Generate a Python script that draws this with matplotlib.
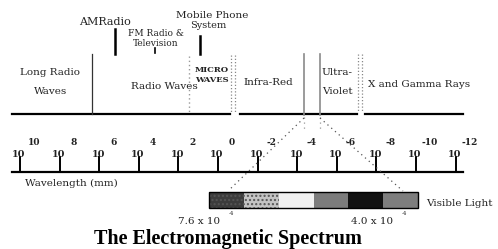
import matplotlib.pyplot as plt
from matplotlib.patches import Rectangle

plt.rcParams["font.family"] = ["DejaVu Serif"]

# wavelength scale: powers of ten in mm
exponents = [10, 8, 6, 4, 2, 0, -2, -4, -6, -8, -10, -12]

# band boundaries on the log10 scale
long_radio_edge = 6.36
micro_left = 1.46
micro_right = -0.76
ir_edges = [-4.34, -5.15]
xray_edge = -7.17

# visible light strip colours (red -> violet)
visible_colors = ["#3c3c3c", "#c4c4c4", "#f0f0f0", "#7c7c7c", "#121212", "#7e7e7e"]
visible_hatch = ["....", "....", None, None, None, None]
visible_left, visible_right = 0.45, -10.10

fig = plt.figure(figsize=(4.98, 2.49), dpi=100)
ax = fig.add_axes([0, 0, 1, 1])
ax.set_xlim(11.01, -14.14)
ax.set_ylim(249, 0)
ax.axis("off")

px = 19.8  # pixels per decade, used for small offsets
txt = dict(color="#222222", fontsize=7.5, ha="center", va="center")

# ---- top band diagram ----
ax.plot([10.40, -0.61], [114, 114], color="black", lw=1.6)
ax.plot([-1.11, -7.02], [114, 114], color="black", lw=1.6)
ax.plot([-7.42, -12.37], [114, 114], color="black", lw=1.6)

ax.plot([long_radio_edge] * 2, [54, 114], color="#333333", lw=0.9)
ax.plot([5.20, 5.20], [29, 54], color="black", lw=1.8)     # AM radio
ax.plot([3.18, 3.18], [48, 53], color="black", lw=1.2)     # FM / TV
ax.plot([0.91, 0.91], [36, 54], color="black", lw=1.8)     # mobile phone
ax.plot([micro_left] * 2, [56, 114], color="#999999", lw=1.0, ls=(0, (1, 2)))
for dx in (-0.12, 0.12):
    ax.plot([micro_right + dx] * 2, [55, 113], color="#888888", lw=0.9, ls=(0, (1, 1.6)))
    ax.plot([xray_edge + dx] * 2, [54, 112], color="#888888", lw=0.9, ls=(0, (1, 1.6)))
for e in ir_edges:
    ax.plot([e, e], [54, 115], color="#8a8a8a", lw=1.2)
    ax.plot([e, e], [117, 131], color="#999999", lw=0.9, ls=(0, (1, 3)))

ax.text(8.48, 72, "Long Radio", **txt)
ax.text(8.48, 91, "Waves", **txt)
ax.text(5.71, 22, "AMRadio", **dict(txt, fontsize=8))
ax.text(3.13, 33, "FM Radio &", **dict(txt, fontsize=6.5))
ax.text(3.13, 43, "Television", **dict(txt, fontsize=6.5))
ax.text(0.30, 15, "Mobile Phone", **dict(txt, fontsize=7.5))
ax.text(0.50, 25, "System", **dict(txt, fontsize=7))
ax.text(0.30, 70, "MICRO", **dict(txt, fontsize=6, fontweight="bold"))
ax.text(0.30, 80, "WAVES", **dict(txt, fontsize=6, fontweight="bold"))
ax.text(2.73, 86, "Radio Waves", **txt)
ax.text(-2.53, 82, "Infra-Red", **txt)
ax.text(-5.25, 72, "Ultra-", **dict(txt, ha="left"))
ax.text(-5.25, 91, "Violet", **dict(txt, ha="left"))
ax.text(-7.58, 84, "X and Gamma Rays", **dict(txt, ha="left"))

# ---- wavelength axis ----
ax.plot([10.40, -12.37], [172, 172], color="black", lw=1.6)
for e in exponents:
    ax.plot([e, e], [157, 172], color="black", lw=1.4)
    ax.text(e + 0.05, 154, "10", **dict(txt, fontsize=7, fontweight="bold"))
    ax.text(e - 14 / px, 142, str(e), **dict(txt, fontsize=6.5, fontweight="bold"))
ax.text(9.75, 183, "Wavelength (mm)", **dict(txt, ha="left"))

# ---- visible light strip ----
seg = (visible_left - visible_right) / len(visible_colors)
for i, (c, h) in enumerate(zip(visible_colors, visible_hatch)):
    left = visible_left - i * seg
    ax.add_patch(Rectangle((left - seg, 192), seg, 16, facecolor=c,
                           edgecolor="#555555" if h else "none", hatch=h, lw=0))
ax.add_patch(Rectangle((visible_right, 192), visible_left - visible_right, 16,
                       facecolor="none", edgecolor="black", lw=1.0))
ax.plot([ir_edges[0], -0.56], [118, 190], color="#555555", lw=0.9, ls=(0, (1, 3)))
ax.plot([ir_edges[1], -9.34], [118, 191], color="#555555", lw=0.9, ls=(0, (1, 3)))

ax.text(-10.50, 203, "Visible Light", **dict(txt, ha="left"))
ax.text(0.95, 221, "7.6 x 10", **txt)
ax.text(-0.70, 213, "-4", **dict(txt, fontsize=4))
ax.text(-7.80, 221, "4.0 x 10", **txt)
ax.text(-9.40, 213, "-4", **dict(txt, fontsize=4))

ax.text(-0.5, 239, "The Electromagnetic Spectrum", color="black", fontsize=14.5,
        fontweight="bold", ha="center", va="center", family="Liberation Serif")

fig.savefig("out.png", dpi=100)
